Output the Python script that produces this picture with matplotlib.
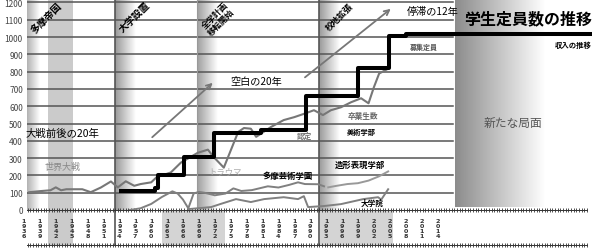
import numpy as np
import matplotlib.pyplot as plt
import matplotlib.transforms as mtransforms
from matplotlib.patches import Rectangle

plt.rcParams['font.family'] = ['Noto Sans CJK JP', 'DejaVu Sans']

# 全体の学生数(卒業生数)
total_years = [1937, 1939, 1941, 1942, 1943, 1944, 1945, 1947, 1948.6, 1950.5,
               1952.4, 1953, 1953.7, 1955.2, 1956.8, 1958, 1960, 1961, 1963.7,
               1965.6, 1968.8, 1970.7, 1971.7, 1973.7, 1976.4, 1977.5, 1978.8,
               1979.8, 1982.6, 1985, 1987, 1989.2, 1990.7, 1992.4, 1993.9,
               1995.8, 1997.7, 1999.6, 2001, 2002, 2003, 2004.7]
total_vals = [103, 109, 114, 131, 114, 120, 120, 120, 103, 130,
              165, 149, 131, 166, 140, 150, 160, 189, 217,
              274, 331, 349, 309, 245, 451, 474, 470,
              423, 480, 520, 537, 560, 577, 549, 577,
              594, 623, 646, 617, 709, 789, 817]

# 募集定員 (太線)
quota_years = [1954, 1960.8, 1961.3, 1966.2, 1971.8, 1980.7, 1989.2, 1999, 2004.9, 2008, 2043.2]
quota_vals = [110, 130, 205, 305, 445, 460, 660, 820, 1005, 1020, 1020]

# 多摩芸術学園
tama_years = [1956, 1958, 1960, 1962, 1964, 1965, 1966, 1967, 1968, 1969, 1970,
              1972, 1974, 1975.5, 1977, 1979, 1982, 1984, 1986, 1987.7, 1989,
              1991.5, 1992.6]
tama_vals = [0, 10, 35, 75, 108, 95, 60, 10, 95, 105, 100,
             85, 95, 125, 110, 115, 137, 130, 145, 160, 150,
             149, 137]

# 造形表現学部
zokei_years = [1993.4, 1995, 1997, 1999, 2001, 2003, 2004.7]
zokei_vals = [131, 140, 150, 155, 170, 195, 223]

# 大学院
grad_years = [1967, 1971.3, 1973, 1976, 1978.8, 1981.3, 1985, 1987.7, 1988.8,
              1989.6, 1992.6, 1995.8, 2000, 2002.8, 2003.4, 2004.7]
grad_vals = [5, 17, 34, 63, 46, 63, 74, 63, 80,
             17, 23, 34, 63, 74, 60, 120]

year_labels = [1936, 1939, 1942, 1945, 1948, 1951, 1954, 1957, 1960, 1963,
               1966, 1969, 1972, 1975, 1978, 1981, 1984, 1987, 1990, 1993,
               1996, 1999, 2002, 2005, 2008, 2011, 2014]

fig = plt.figure(figsize=(6, 2.51), dpi=100)
ax = fig.add_axes([27 / 600, 1 - 211 / 251, 570 / 600, 211 / 251])
X0, X1 = 1936.57, 2044.1
ax.set_xlim(X0, X1)
ax.set_ylim(0, 1220)
for s in ax.spines.values():
    s.set_visible(False)
ax.set_xticks([])
ax.set_yticks(range(0, 1300, 100))
ax.tick_params(axis='y', length=0, pad=3, labelsize=6, labelcolor='#444')

trans = mtransforms.blended_transform_factory(ax.transData, ax.transAxes)
STRIP = -0.166


def gband(x0, x1, y0, y1, c=0.62, a0=1.0):
    img = np.zeros((1, 64, 4))
    img[..., :3] = c
    img[0, :, 3] = np.linspace(a0, 0, 64)
    ax.imshow(img, extent=[x0, x1, y0, y1], aspect='auto', zorder=0,
              interpolation='bilinear')


# shaded eras
gband(X0, 1939, 0, 1220, c=0.7)
ax.axvspan(1940.5, 1945.25, ymin=STRIP, ymax=1, color='#cbcbcb', lw=0,
           zorder=0, clip_on=False)
gband(1953.2, 1957, 0, 1220, c=0.6)
gband(1968.6, 1972.5, 0, 1220, c=0.62)
gband(1991.7, 1995.6, 0, 1220, c=0.6)
gband(2017.3, 2034.3, 17, 1220, c=0.55)
for a, b in [(1962, 1973.9), (1991.85, 2005.6)]:
    ax.add_patch(Rectangle((a, STRIP), b - a, -STRIP, transform=trans,
                           color='#d4d4d4', lw=0, zorder=0, clip_on=False))

# grid lines
for v in range(100, 1300, 100):
    ax.plot([X0, 2016.9], [v, v], color='#555', lw=1.1, zorder=1)
for xv in [1953.2, 1991.7]:
    ax.plot([xv, xv], [STRIP, 1], transform=trans, color='#555', lw=1.2,
            zorder=1, clip_on=False)
ax.plot([1968.6, 1968.6], [0, 1], transform=trans, color='#999', lw=0.8, zorder=1)

# rulers
rx = np.arange(1936.7, 2042.3, 0.5)
for yy in [0, STRIP]:
    ax.plot([X0, 2042.3], [yy, yy], transform=trans, color='#333', lw=0.7,
            zorder=3, clip_on=False)
    ax.plot(rx, [yy] * len(rx), transform=trans, ls='none', marker='|',
            ms=2.2, mew=0.6, color='#333', zorder=3, clip_on=False)

# year labels
for y in year_labels:
    ax.text(y, -0.085, '\n'.join(str(y)), transform=trans, ha='center',
            va='center', fontsize=4.6, linespacing=0.95, color='#333',
            family='DejaVu Sans', fontweight='bold')

# data lines
ax.plot(total_years, total_vals, color='#777', lw=1.5, zorder=4)
ax.plot(tama_years, tama_vals, color='#808080', lw=1.4, zorder=4)
ax.plot(zokei_years, zokei_vals, color='#999', lw=1.4, zorder=4)
ax.plot(grad_years, grad_vals, color='#808080', lw=1.4, zorder=4)
ax.plot(quota_years, quota_vals, drawstyle='steps-post', color='black',
        lw=2.9, zorder=5, solid_capstyle='butt')

# arrows
for (xa, ya), (xb, yb) in [((1959.8, 410), (1972.0, 746)),
                           ((1988.6, 757), (2005.6, 1173))]:
    ax.annotate('', xy=(xb, yb), xytext=(xa, ya),
                arrowprops=dict(arrowstyle='->', color='#777', lw=1.3,
                                mutation_scale=9), zorder=4)

# texts
def t(x, y, s, size, color='black', weight='normal', rot=0, **kw):
    ax.text(x, y, s, fontsize=size, color=color, fontweight=weight,
            rotation=rot, ha='center', va='center', zorder=6, **kw)


t(1943.3, 445, '大戦前後の20年', 7.5)
t(1943.2, 254, '世界大戦', 6.5, color='#888')
t(1979.9, 746, '空白の20年', 7.3)
t(2013.1, 1150, '停滞の12年', 7.3)
t(2031.2, 1110, '学生定員数の推移', 11.5, weight='bold')
t(2039.6, 960, '収入の推移', 5.3, weight='bold')
t(2011.4, 948, '募集定員', 5, color='#555', weight='bold')
t(2028.2, 509, '新たな局面', 8.5, color='#555')
t(2000, 549, '卒業生数', 5.5, color='#666', weight='bold')
t(1999.7, 457, '美術学部', 5.2, weight='bold')
t(1988.9, 434, '認定', 5.5, color='#777', weight='bold')
t(1999.3, 266, '造形表現学部', 6, weight='bold')
t(1985.7, 197, '多摩芸術学園', 6, weight='bold')
t(2001.75, 46, '大学院', 5.5, weight='bold')
t(1974, 225, 'トラウマ', 6, color='#aaa')
t(1940.2, 1116, '多摩帝国', 7, weight='bold', rot=45)
t(1956.8, 1121, '大学設置', 7, weight='bold', rot=45)
t(1972.6, 1110, '全学計画\n移転開始', 6, weight='bold', rot=45, linespacing=1.0)
t(1995.6, 1121, '校地拡張', 6.2, weight='bold', rot=45)

fig.savefig('out.png', dpi=100)
